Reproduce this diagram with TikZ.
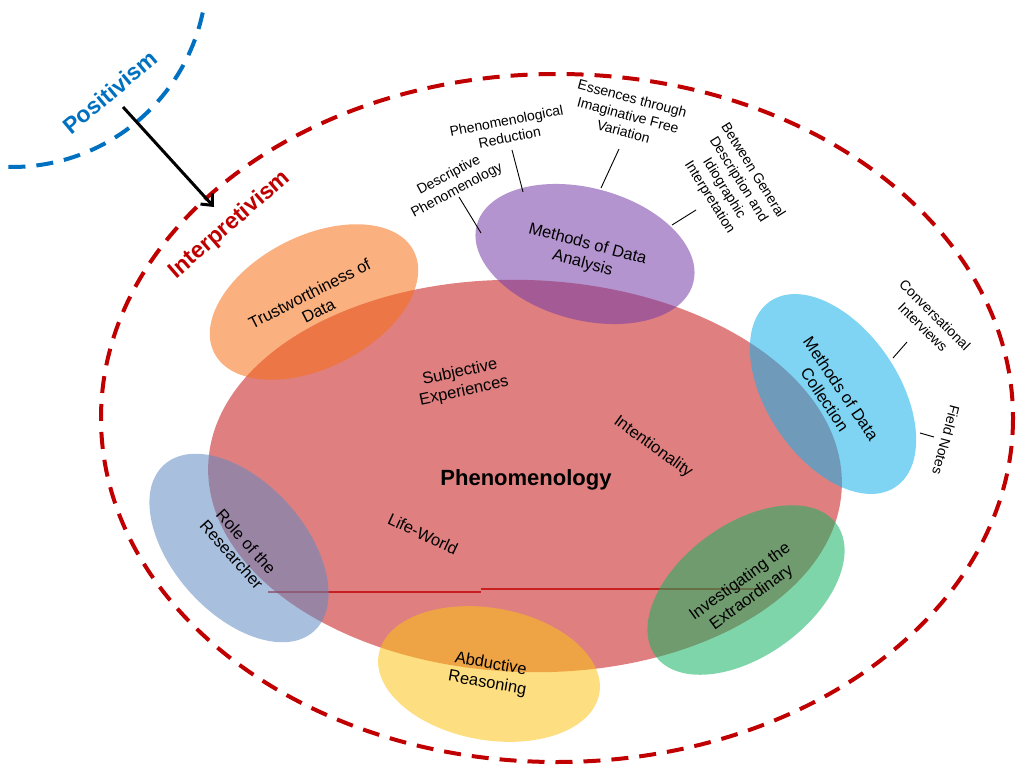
\documentclass[tikz,border=0pt]{standalone}
\usepackage{fontspec}
\setmainfont{Liberation Sans}
\usetikzlibrary{shapes.geometric,arrows.meta}
\definecolor{posblue}{RGB}{0,112,192}
\definecolor{intred}{RGB}{192,0,0}
\definecolor{cOrange}{RGB}{246,111,22}
\definecolor{cPurple}{RGB}{117,60,166}
\definecolor{cSky}{RGB}{22,177,235}
\definecolor{cGreen}{RGB}{22,179,100}
\definecolor{cSteel}{RGB}{97,140,195}
\definecolor{cYellow}{RGB}{251,195,24}
\begin{document}
\begin{tikzpicture}[x=1pt,y=-1pt,
  blob/.style={ellipse, inner sep=0pt, minimum width=224pt, minimum height=132pt,
    fill opacity=0.55, text opacity=1, align=center,
    font=\fontsize{16.5}{19.5}\selectfont},
  core/.style={ellipse, inner sep=0pt, minimum width=634pt, minimum height=392pt,
    fill=intred, fill opacity=0.5},
  inner/.style={align=center, font=\fontsize{16.5}{19.5}\selectfont},
  note/.style={align=center, font=\fontsize{14}{17}\selectfont},
  tick/.style={draw=black, line width=0.9pt},
  paradigm/.style={line width=4pt, dash pattern=on 17pt off 11pt},
  title/.style={font=\fontsize{23}{27}\selectfont\bfseries}]
\useasboundingbox (0,0) rectangle (1016,767);

% paradigm boundaries
\draw[paradigm, posblue] plot[domain=12:93, samples=80, smooth]
  ({12+195*cos(\x)},{-28+195*sin(\x)});
\draw[paradigm, intred] (557,418) ellipse [x radius=456, y radius=344];

\node[title, text=posblue, rotate=40] (pos) at (110,92) {Positivism};
\node[title, text=intred, rotate=41] (interp) at (230,225) {Interpretivism};
\coordinate (arrfrom) at (123,107);
\coordinate (arrto) at (214,207);
\draw[line width=3pt, -{Straight Barb[length=9pt, width=16pt]}] (arrfrom) -- (arrto);

% central concept
\node[core, rotate=-2] (phen) at (525,476) {};
\coordinate (r1a) at (268,592);
\coordinate (r1b) at (481,592);
\coordinate (r2a) at (481,589);
\coordinate (r2b) at (764,589);
\draw[intred, line width=1.2pt, opacity=0.75] (r1a) -- (r1b);
\draw[intred, line width=1.2pt, opacity=0.75] (r2a) -- (r2b);

% surrounding themes
\node[blob, fill=cOrange, rotate=27] (trust) at (314,302) {Trustworthiness of\\Data};
\node[blob, fill=cPurple, rotate=-15] (anal) at (585,254) {Methods of Data\\Analysis};
\node[blob, fill=cSky, rotate=-56] (coll) at (833,394) {Methods of Data\\Collection};
\node[blob, fill=cSteel, rotate=-48] (role) at (239,548) {Role of the\\Researcher};
\node[blob, fill=cGreen, rotate=36] (inv) at (746,590) {Investigating the\\Extraordinary};
\node[blob, fill=cYellow, rotate=-10] (abd) at (489,674) {Abductive\\Reasoning};

% labels inside the central concept
\node[font=\fontsize{22}{26}\selectfont\bfseries] (phentext) at (526,480) {Phenomenology};
\node[inner, rotate=12] (subj) at (462,382) {Subjective\\Experiences};
\node[inner, rotate=-36] (intent) at (653,447) {Intentionality};
\node[inner, rotate=-25] (life) at (423,534) {Life-World};

% analysis methods
\node[note, rotate=28] (desc) at (453,183) {Descriptive\\Phenomenology};
\node[note, rotate=11] (reduc) at (508,129) {Phenomenological\\Reduction};
\node[note, rotate=-15] (ess) at (628,115) {Essences through\\Imaginative Free\\Variation};
\node[note, rotate=-58] (betw) at (731,184) {Between General\\Description and\\Idiographic\\Interpretation};
\coordinate (d1) at (459,197);
\coordinate (d2) at (481,233);
\coordinate (p1) at (512,150);
\coordinate (p2) at (523,192);
\coordinate (e1) at (619,149);
\coordinate (e2) at (601,188);
\coordinate (b1) at (696,210);
\coordinate (b2) at (672,225);
\draw[tick] (d1) -- (d2);
\draw[tick] (p1) -- (p2);
\draw[tick] (e1) -- (e2);
\draw[tick] (b1) -- (b2);

% collection methods
\node[note, rotate=-45] (conv) at (929,321) {Conversational\\Interviews};
\node[note, rotate=-105] (field) at (946,440) {Field Notes};
\coordinate (c1) at (907,342);
\coordinate (c2) at (893,358);
\coordinate (f1) at (920,433);
\coordinate (f2) at (934,437);
\draw[tick] (c1) -- (c2);
\draw[tick] (f1) -- (f2);
\end{tikzpicture}
\end{document}
